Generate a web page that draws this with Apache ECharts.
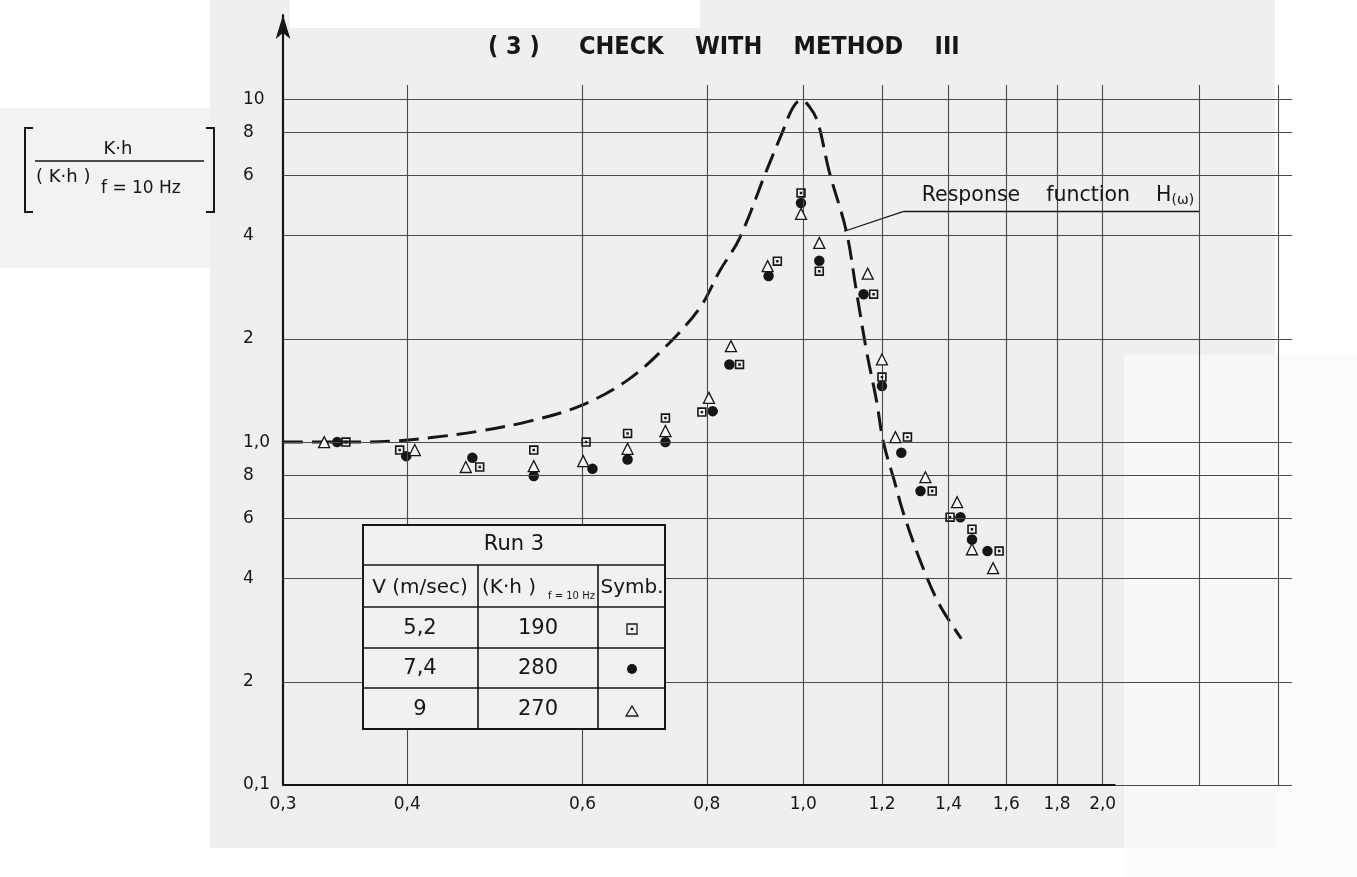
<!DOCTYPE html>
<html>
<head>
<meta charset="utf-8">
<title>Check with method III</title>
<script src="https://cdn.jsdelivr.net/npm/echarts@6/dist/echarts.min.js"></script>
<style>
	html, body { margin: 0; padding: 0; background: #fff; }
	#main { width: 1357px; height: 877px; }
</style>
</head>
<body>
<div id="main"></div>
<script>
// axis ticks / grid
const xLabelValues = [0.3, 0.4, 0.6, 0.8, 1.0, 1.2, 1.4, 1.6, 1.8, 2.0];
const xGridValues = [0.4, 0.6, 0.8, 1.0, 1.2, 1.4, 1.6, 1.8, 2.0, 2.5, 3.0];
const yLabelValues = [0.1, 0.2, 0.4, 0.6, 0.8, 1, 2, 4, 6, 8, 10];
const yGridValues = [0.1, 0.2, 0.4, 0.6, 0.8, 1, 2, 4, 6, 8, 10];

// response function H(w), dashed
const responseCurve = [
	[0.30, 1.0], [0.36, 1.0], [0.39, 1.008], [0.421, 1.029], [0.473, 1.077], [0.531, 1.151],
	[0.596, 1.273], [0.664, 1.506], [0.725, 1.88], [0.787, 2.46], [0.824, 3.15], [0.863, 3.93],
	[0.918, 6.16], [0.954, 8.07], [0.976, 9.43], [0.995, 9.95], [1.014, 9.53], [1.034, 8.6],
	[1.062, 6.16], [1.105, 4.12], [1.131, 2.76], [1.158, 1.84], [1.185, 1.32], [1.204, 1.0],
	[1.235, 0.77], [1.262, 0.617], [1.315, 0.441], [1.370, 0.337], [1.442, 0.267]
];

// V = 5,2 m/sec  (K·h) = 190  -> dotted square
const run52 = [
	[0.347, 1.0], [0.393, 0.948], [0.473, 0.846], [0.536, 0.948], [0.605, 1.0], [0.666, 1.06],
	[0.727, 1.175], [0.791, 1.223], [0.863, 1.684], [0.942, 3.37], [0.995, 5.33], [1.038, 3.15],
	[1.177, 2.70], [1.20, 1.547], [1.273, 1.034], [1.348, 0.72], [1.405, 0.604], [1.478, 0.557],
	[1.574, 0.481]
];

// V = 7,4 m/sec  (K·h) = 280  -> filled circle
const run74 = [
	[0.340, 1.0], [0.399, 0.91], [0.465, 0.90], [0.536, 0.796], [0.614, 0.836], [0.666, 0.89],
	[0.727, 1.0], [0.811, 1.231], [0.843, 1.684], [0.923, 3.05], [0.995, 4.98], [1.038, 3.38],
	[1.150, 2.70], [1.20, 1.457], [1.255, 0.931], [1.312, 0.72], [1.439, 0.604], [1.478, 0.52],
	[1.532, 0.481]
];

// V = 9 m/sec  (K·h) = 270  -> triangle
const run90 = [
	[0.330, 1.0], [0.407, 0.948], [0.458, 0.846], [0.536, 0.851], [0.601, 0.88], [0.666, 0.956],
	[0.727, 1.077], [0.804, 1.346], [0.846, 1.905], [0.921, 3.26], [0.995, 4.63], [1.038, 3.81],
	[1.161, 3.1], [1.20, 1.742], [1.238, 1.034], [1.327, 0.79], [1.428, 0.668], [1.478, 0.487],
	[1.552, 0.429]
];

// leader of the "Response function" note: point on curve, knee, end of underline
const notePoints = [[1.10, 4.12], [1.262, 4.71], [2.5, 4.71]];

const tableRows = [['5,2', '190'], ['7,4', '280'], ['9', '270']];

const INK = '#161616';
const FONT = "'DejaVu Sans', 'Noto Sans', sans-serif";
const SQUARE_DOT = 'path://M0,0H10V10H0Z M1.7,1.7V8.3H8.3V1.7Z M3.7,3.7H6.3V6.3H3.7Z';

const xLabel = function (v) {
	return (Math.round(v * 10) / 10).toFixed(1).replace('.', ',');
};

const yLabel = function (v) {
	const r = Math.round(v * 100) / 100;
	if (r === 0.1) return '0,1';
	if (r === 1) return '1,0';
	if (r === 10) return '10';
	return String(r < 1 ? Math.round(r * 10) : r);
};

const buildGridLines = function () {
	const lines = [];
	yGridValues.forEach(function (v) {
		lines.push({ yAxis: v });
	});
	xGridValues.forEach(function (v) {
		lines.push([{ coord: [v, 0.1] }, { coord: [v, 11] }]);
	});
	// dark x axis line only up to 2,0
	lines.push([
		{ coord: [0.3, 0.1], lineStyle: { color: INK, width: 2.2 } },
		{ coord: [2.06, 0.1] }
	]);
	return lines;
};

const buildTable = function () {
	const x0 = 363, x1 = 665, cA = 478, cB = 598;
	const rowsY = [525, 565, 607, 648, 688, 729];
	const els = [];
	els.push({
		type: 'rect', z: 50,
		shape: { x: x0, y: rowsY[0], width: x1 - x0, height: rowsY[5] - rowsY[0] },
		style: { fill: '#f1f1f1', stroke: INK, lineWidth: 2 }
	});
	rowsY.slice(1, 5).forEach(function (y) {
		els.push({ type: 'line', z: 51, shape: { x1: x0, y1: y, x2: x1, y2: y }, style: { stroke: INK, lineWidth: 1.6 } });
	});
	[cA, cB].forEach(function (x) {
		els.push({ type: 'line', z: 51, shape: { x1: x, y1: rowsY[1], x2: x, y2: rowsY[5] }, style: { stroke: INK, lineWidth: 1.6 } });
	});
	const txt = function (text, x, y, size, align) {
		return {
			type: 'text', z: 52, x: x, y: y,
			style: { text: text, fill: INK, fontSize: size, fontFamily: FONT, align: align || 'center', verticalAlign: 'middle' }
		};
	};
	els.push(txt('Run 3', 514, 545, 21));
	els.push(txt('V (m/sec)', 420, 588, 20));
	els.push(txt('(K·h )', 482, 588, 20, 'left'));
	els.push(txt('f = 10 Hz', 548, 596, 10, 'left'));
	els.push(txt('Symb.', 632, 588, 20));
	tableRows.forEach(function (row, i) {
		const cy = (rowsY[i + 2] + rowsY[i + 3]) / 2 + 1;
		els.push(txt(row[0], 420, cy, 21));
		els.push(txt(row[1], 538, cy, 21));
	});
	// symbol column
	els.push({ type: 'rect', z: 52, shape: { x: 627, y: 624, width: 10, height: 10 }, style: { fill: 'none', stroke: INK, lineWidth: 1.3 } });
	els.push({ type: 'rect', z: 52, shape: { x: 630.8, y: 627.8, width: 2.4, height: 2.4 }, style: { fill: INK } });
	els.push({ type: 'circle', z: 52, shape: { cx: 632, cy: 669, r: 5 }, style: { fill: INK } });
	els.push({ type: 'polygon', z: 52, shape: { points: [[632, 706], [638, 716], [626, 716]] }, style: { fill: 'none', stroke: INK, lineWidth: 1.3 } });
	return els;
};

const buildDecor = function () {
	const bg = [
		{ type: 'rect', z: -100, shape: { x: 210, y: 28, width: 1065, height: 820 }, style: { fill: '#efefef' } },
		{ type: 'rect', z: -100, shape: { x: 700, y: 0, width: 575, height: 28 }, style: { fill: '#efefef' } },
		{ type: 'rect', z: -100, shape: { x: 210, y: 0, width: 80, height: 28 }, style: { fill: '#efefef' } },
		{ type: 'rect', z: -100, shape: { x: 0, y: 108, width: 210, height: 160 }, style: { fill: '#f2f2f2' } },
		// pale patch at lower right, fades the grid there
		{ type: 'rect', z: 2, shape: { x: 1124, y: 355, width: 233, height: 522 }, style: { fill: 'rgba(250,250,250,0.78)' } }
	];
	const title = {
		type: 'text', z: 10, x: 488, y: 47,
		style: {
			text: '( 3 )     CHECK    WITH    METHOD    III',
			fill: INK, fontSize: 25, fontWeight: 'bold',
			fontFamily: "'DejaVu Sans Condensed', 'Liberation Sans Narrow', 'DejaVu Sans', sans-serif",
			align: 'left', verticalAlign: 'middle'
		}
	};
	const yName = [
		{ type: 'polyline', z: 10, shape: { points: [[33, 128], [25, 128], [25, 212], [33, 212]] }, style: { stroke: INK, lineWidth: 2, fill: 'none' } },
		{ type: 'polyline', z: 10, shape: { points: [[206, 128], [214, 128], [214, 212], [206, 212]] }, style: { stroke: INK, lineWidth: 2, fill: 'none' } },
		{ type: 'line', z: 10, shape: { x1: 35, y1: 161, x2: 204, y2: 161 }, style: { stroke: INK, lineWidth: 1.5 } },
		{ type: 'text', z: 10, x: 118, y: 149, style: { text: 'K·h', fill: INK, fontSize: 18, fontFamily: FONT, align: 'center', verticalAlign: 'middle' } },
		{ type: 'text', z: 10, x: 36, y: 177, style: { text: '( K·h )', fill: INK, fontSize: 18, fontFamily: FONT, align: 'left', verticalAlign: 'middle' } },
		{ type: 'text', z: 10, x: 101, y: 189, style: { text: 'f = 10 Hz', fill: INK, fontSize: 17, fontFamily: FONT, align: 'left', verticalAlign: 'middle' } }
	];
	return bg.concat([title], yName, buildTable());
};

const chart = echarts.init(document.getElementById('main'));

const options = {
	backgroundColor: '#ffffff',
	animation: false,
	grid: { left: 283, right: 65, top: 15, bottom: 92 },
	xAxis: {
		type: 'log',
		logBase: 10,
		min: 0.3,
		max: 3.1,
		axisLine: { show: false },
		axisTick: { show: false },
		splitLine: { show: false },
		axisLabel: {
			customValues: xLabelValues,
			formatter: xLabel,
			margin: 11,
			fontSize: 17,
			fontFamily: FONT,
			color: INK
		}
	},
	yAxis: {
		type: 'log',
		logBase: 10,
		min: 0.1,
		max: 17.6,
		axisLine: {
			show: true,
			symbol: ['none', 'arrow'],
			symbolSize: [11, 24],
			lineStyle: { color: INK, width: 2.2 }
		},
		axisTick: { show: false },
		splitLine: { show: false },
		axisLabel: {
			customValues: yLabelValues,
			formatter: yLabel,
			align: 'left',
			margin: 40,
			fontSize: 17,
			fontFamily: FONT,
			color: INK
		}
	},
	graphic: { elements: buildDecor() },
	series: [{
			name: 'grid',
			type: 'line',
			data: [],
			z: 1,
			silent: true,
			markLine: {
				silent: true,
				symbol: ['none', 'none'],
				animation: false,
				label: { show: false },
				lineStyle: { color: '#4a4a4a', width: 1.1, type: 'solid' },
				data: buildGridLines()
			}
		}, {
			name: 'Response function',
			type: 'line',
			data: responseCurve,
			smooth: 0.35,
			symbol: 'none',
			z: 3,
			lineStyle: { color: INK, width: 3, type: [20, 9] },
			markLine: {
				silent: true,
				symbol: ['none', 'none'],
				animation: false,
				lineStyle: { color: INK, width: 1.3, type: 'solid' },
				label: {
					show: true,
					position: 'insideStartTop',
					distance: 4,
					formatter: function (p) {
						return p.dataIndex === 1 ? '{a|Response    function    H}{b|(ω)}' : '';
					},
					rich: {
						a: { fontSize: 20.5, fontFamily: FONT, color: INK, padding: [0, 0, 0, 14] },
						b: { fontSize: 14, fontFamily: FONT, color: INK, padding: [9, 0, 0, 0] }
					}
				},
				data: [
					[{ coord: notePoints[0] }, { coord: notePoints[1] }],
					[{ coord: notePoints[1] }, { coord: notePoints[2] }]
				]
			}
		}, {
			name: '7,4',
			type: 'scatter',
			data: run74,
			symbol: 'circle',
			symbolSize: 10.5,
			z: 4,
			itemStyle: { color: INK, opacity: 1 }
		}, {
			name: '5,2',
			type: 'scatter',
			data: run52,
			symbol: SQUARE_DOT,
			symbolSize: 9.5,
			z: 5,
			itemStyle: { color: INK, opacity: 1 }
		}, {
			name: '9',
			type: 'scatter',
			data: run90,
			symbol: 'triangle',
			symbolSize: 11,
			z: 6,
			itemStyle: { color: '#f6f6f6', borderColor: INK, borderWidth: 1.3, opacity: 1 }
		}
	]
};

chart.setOption(options);
</script>
</body>
</html>
